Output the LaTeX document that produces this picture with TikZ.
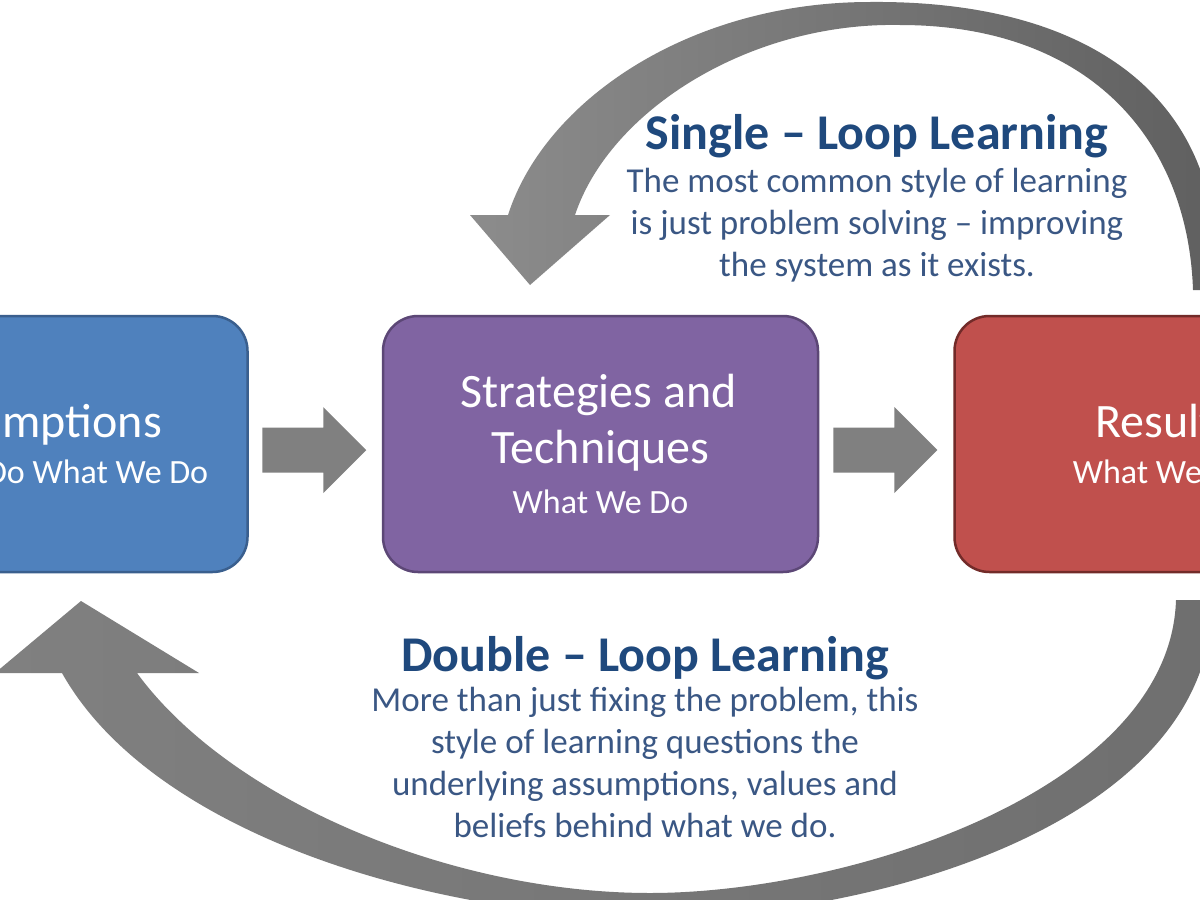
\documentclass[tikz,border=0pt]{standalone}
\usepackage{fontspec}
\setmainfont{Carlito}
\usetikzlibrary{positioning,calc}
\definecolor{boxblue}{HTML}{4F81BD}
\definecolor{boxblueline}{HTML}{3A5F8E}
\definecolor{boxpurple}{HTML}{8064A2}
\definecolor{boxpurpleline}{HTML}{5C4776}
\definecolor{boxred}{HTML}{C0504D}
\definecolor{boxredline}{HTML}{722B29}
\definecolor{headblue}{HTML}{1F497D}
\definecolor{textblue}{HTML}{3A5784}
\definecolor{arrowgray}{HTML}{808080}
\definecolor{loopgraylight}{HTML}{8C8C8C}
\definecolor{loopgraydark}{HTML}{5F5F5F}
\tikzset{
  stage/.style={draw,line width=2.5pt,rounded corners=35pt,minimum width=435pt,minimum height=256pt,inner sep=0pt},
  stagebig/.style={text=white,font=\fontsize{48}{56}\selectfont,anchor=base,inner sep=0pt},
  stagesmall/.style={text=white,font=\fontsize{34}{40}\selectfont,anchor=base,inner sep=0pt},
  loophead/.style={text=headblue,font=\bfseries\fontsize{50}{58}\selectfont,anchor=base,inner sep=0pt},
  looptext/.style={text=textblue,font=\fontsize{35}{42}\selectfont,anchor=base,inner sep=0pt},
  blockarrow/.style={fill=arrowgray}
}
\begin{document}
\begin{tikzpicture}[x=1pt,y=-1pt]
  \useasboundingbox (0,0) rectangle (1200,900);
  \clip (0,0) rectangle (1200,900);
  \fill[white] (0,0) rectangle (1200,900);
  % single loop, over the top
  \shade[left color=loopgraylight,right color=loopgraydark]
    (1193,290) .. controls (1188,140) and (1090,25) .. (900,25)
    .. controls (750,22) and (610,110) .. (575,215)
    -- (610,215) -- (530,285) -- (470,215) -- (508,215)
    .. controls (545,100) and (690,2) .. (870,2)
    .. controls (1080,0) and (1228,90) .. (1216,290) -- cycle;
  % double loop, under the bottom
  \shade[left color=arrowgray,right color=loopgraydark!90!white]
    (62,673) -- (-5,673) -- (81,601) -- (199,673) -- (137,673)
    .. controls (230,800) and (450,893) .. (650,893)
    .. controls (850,893) and (1170,790) .. (1176,600)
    -- (1212,600)
    .. controls (1215,820) and (880,918) .. (650,918)
    .. controls (420,915) and (150,830) .. (62,673) -- cycle;
  % the three stages
  \node[stage,fill=boxpurple,draw=boxpurpleline] (strat) at (600.5,444) {};
  \node[stage,fill=boxblue,draw=boxblueline,left=133pt of strat] (assume) {};
  \node[stage,fill=boxred,draw=boxredline,right=134pt of strat] (result) {};
  \node[stagebig] (assume-a) at ([xshift=7pt,yshift=7pt]assume.center) {Assumptions};
  \node[stagesmall] (assume-b) at ([xshift=5pt,yshift=-39pt]assume.center) {Why We Do What We Do};
  \node[stagebig] (strat-a) at ([xshift=-2pt,yshift=37pt]strat.center) {Strategies and};
  \node[stagebig] (strat-b) at ([yshift=-19pt]strat.center) {Techniques};
  \node[stagesmall] (strat-c) at ([yshift=-69pt]strat.center) {What We Do};
  \node[stagebig] (result-a) at ([xshift=-7pt,yshift=7pt]result.center) {Results};
  \node[stagesmall] (result-b) at ([xshift=-6pt,yshift=-39pt]result.center) {What We Get};
  % block arrows between the stages
  \foreach \a/\b in {assume/strat,strat/result}
    \fill[blockarrow,shift={($(\a.east)!.5!(\b.west)+(0,6)$)}]
      (-53,-22.5) -- (8,-22.5) -- (8,-43) -- (51,0) -- (8,43) -- (8,22.5) -- (-53,22.5) -- cycle;
  % texts of the two loops
  \node[loophead] (single) at (877,149) {Single – Loop Learning};
  \foreach \txt [count=\i] in {The most common style of learning,
      is just problem solving – improving, the system as it exists.}
    \node[looptext] (single-\i) at (877,150+42*\i) {\txt};
  \node[loophead] (double) at (645,671) {Double – Loop Learning};
  \foreach \txt [count=\i] in {{More than just fixing the problem, this},
      style of learning questions the, {underlying assumptions, values and},
      beliefs behind what we do.}
    \node[looptext] (double-\i) at (645,669+42*\i) {\txt};
\end{tikzpicture}
\end{document}
